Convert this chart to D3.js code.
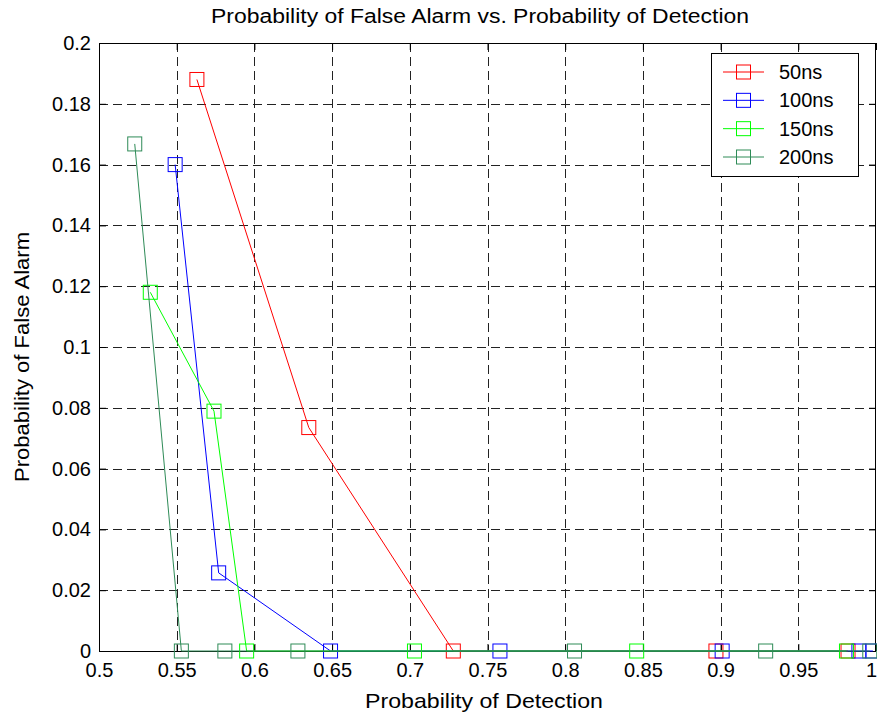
<!DOCTYPE html>
<html>
<head>
<meta charset="utf-8">
<script src="https://cdn.jsdelivr.net/npm/d3@7"></script>
<style>
  html, body { margin: 0; padding: 0; background: #fff; }
  svg { display: block; font-family: Arial, "Liberation Sans", Helvetica, sans-serif; }
</style>
</head>
<body>
<svg id="chart" width="877" height="717"></svg>
<script>
// Series names and measured detection / false-alarm probabilities
const seriesNames = ["50ns", "100ns", "150ns", "200ns"];
const seriesColors = ["#ff0000", "#0000ff", "#00ff00", "#2e8b57"];

const pd50 = [0.563, 0.635, 0.728, 0.897, 0.982];
const pfa50 = [0.188, 0.0735, 0, 0, 0];

const pd100 = [0.549, 0.577, 0.649, 0.758, 0.901, 0.989, 0.998];
const pfa100 = [0.160, 0.0257, 0, 0, 0, 0, 0];

const pd150 = [0.533, 0.574, 0.595, 0.703, 0.846, 0.981];
const pfa150 = [0.118, 0.0789, 0, 0, 0, 0];

const pd200 = [0.523, 0.553, 0.581, 0.628, 0.806, 0.929, 0.996];
const pfa200 = [0.1668, 0, 0, 0, 0, 0, 0];

const xTicks = [0.5, 0.55, 0.6, 0.65, 0.7, 0.75, 0.8, 0.85, 0.9, 0.95, 1];
const yTicks = [0, 0.02, 0.04, 0.06, 0.08, 0.1, 0.12, 0.14, 0.16, 0.18, 0.2];

const titleText = "Probability of False Alarm vs. Probability of Detection";
const xLabelText = "Probability of Detection";
const yLabelText = "Probability of False Alarm";

const pdSeries = [pd50, pd100, pd150, pd200];
const pfaSeries = [pfa50, pfa100, pfa150, pfa200];
const series = seriesNames.map((name, i) => ({
  name,
  color: seriesColors[i],
  points: pdSeries[i].map((pd, j) => ({ pd, pfa: pfaSeries[i][j] }))
}));

const svg = d3.select("#chart");
const plotL = 99, plotR = 876, plotT = 43, plotB = 651;

const x = d3.scaleLinear().domain([0.5, 1]).range([plotL, plotR]);
const y = d3.scaleLinear().domain([0, 0.2]).range([plotB, plotT]);

const fmt = d => String(+d.toFixed(2));

// Dashed grid
const grid = svg.append("g").attr("stroke", "#222").attr("stroke-width", 1)
  .attr("stroke-dasharray", "9,5").attr("shape-rendering", "crispEdges");
grid.selectAll("line.gx").data(xTicks.slice(1, -1)).join("line")
  .attr("x1", d => Math.round(x(d)) + 0.5).attr("x2", d => Math.round(x(d)) + 0.5)
  .attr("y1", plotT).attr("y2", plotB);
grid.selectAll("line.gy").data(yTicks.slice(1, -1)).join("line")
  .attr("y1", d => Math.round(y(d)) + 0.5).attr("y2", d => Math.round(y(d)) + 0.5)
  .attr("x1", plotL).attr("x2", plotR);

// Axes with inward ticks, mirrored on top and right
const tickLen = 7;
const axisBottom = d3.axisBottom(x).tickValues(xTicks).tickFormat(fmt)
  .tickSizeInner(-tickLen).tickSizeOuter(0).tickPadding(12);
const axisLeft = d3.axisLeft(y).tickValues(yTicks).tickFormat(fmt)
  .tickSizeInner(-tickLen).tickSizeOuter(0).tickPadding(8);
const axisTop = d3.axisTop(x).tickValues(xTicks).tickFormat("")
  .tickSizeInner(-tickLen).tickSizeOuter(0);
const axisRight = d3.axisRight(y).tickValues(yTicks).tickFormat("")
  .tickSizeInner(-tickLen).tickSizeOuter(0);

function styleAxis(g) {
  g.select(".domain").remove();
  g.selectAll("line").attr("stroke", "#000");
  g.selectAll("text").attr("fill", "#000").attr("font-size", 20)
    .attr("font-family", "Arial, 'Liberation Sans', Helvetica, sans-serif");
}
const gBottom = svg.append("g").attr("transform", `translate(0,${plotB})`)
  .call(axisBottom).call(styleAxis);
// keep the last label inside the page edge
gBottom.selectAll(".tick text").filter(d => d === 1).attr("dx", -5);
svg.append("g").attr("transform", `translate(${plotL},0)`).call(axisLeft).call(styleAxis);
svg.append("g").attr("transform", `translate(0,${plotT})`).call(axisTop).call(styleAxis);
svg.append("g").attr("transform", `translate(${plotR},0)`).call(axisRight).call(styleAxis);

// Axes box
svg.append("rect").attr("x", plotL + 0.5).attr("y", plotT + 0.5)
  .attr("width", plotR - plotL - 1).attr("height", plotB - plotT)
  .attr("fill", "none").attr("stroke", "#000").attr("stroke-width", 1)
  .attr("shape-rendering", "crispEdges");

// Series lines and square markers
const line = d3.line().x(d => x(d.pd)).y(d => y(d.pfa));
const markerSize = 14;
series.forEach(s => {
  const g = svg.append("g");
  g.append("path").datum(s.points).attr("d", line)
    .attr("fill", "none").attr("stroke", s.color).attr("stroke-width", 1);
  g.selectAll("rect").data(s.points).join("rect")
    .attr("x", d => x(d.pd) - markerSize / 2).attr("y", d => y(d.pfa) - markerSize / 2)
    .attr("width", markerSize).attr("height", markerSize)
    .attr("fill", "none").attr("stroke", s.color).attr("stroke-width", 1);
});

// Legend
const legend = svg.append("g");
const lgX = 711, lgY = 53, lgW = 147, lgH = 123;
legend.append("rect").attr("x", lgX + 0.5).attr("y", lgY + 0.5)
  .attr("width", lgW).attr("height", lgH)
  .attr("fill", "#fff").attr("stroke", "#000").attr("stroke-width", 1);
const rowY = d3.scaleLinear().domain([0, 3]).range([lgY + 19, lgY + 104]);
series.forEach((s, i) => {
  const cy = rowY(i);
  legend.append("line").attr("x1", 723).attr("x2", 764).attr("y1", cy).attr("y2", cy)
    .attr("stroke", s.color).attr("stroke-width", 1);
  legend.append("rect").attr("x", 743.5 - markerSize / 2).attr("y", cy - markerSize / 2)
    .attr("width", markerSize).attr("height", markerSize)
    .attr("fill", "none").attr("stroke", s.color).attr("stroke-width", 1);
  legend.append("text").attr("x", 779).attr("y", cy + 7)
    .attr("font-size", 20).attr("fill", "#000").text(s.name);
});

// Title and axis labels
svg.append("text").attr("x", 480).attr("y", 23).attr("text-anchor", "middle")
  .attr("font-size", 20).attr("textLength", 538).attr("lengthAdjust", "spacingAndGlyphs")
  .attr("fill", "#000").text(titleText);
svg.append("text").attr("x", 484).attr("y", 708).attr("text-anchor", "middle")
  .attr("font-size", 21).attr("textLength", 238).attr("lengthAdjust", "spacingAndGlyphs")
  .attr("fill", "#000").text(xLabelText);
svg.append("text").attr("transform", "translate(29,357) rotate(-90)")
  .attr("text-anchor", "middle").attr("font-size", 21)
  .attr("textLength", 250).attr("lengthAdjust", "spacingAndGlyphs")
  .attr("fill", "#000").text(yLabelText);
</script>
</body>
</html>
